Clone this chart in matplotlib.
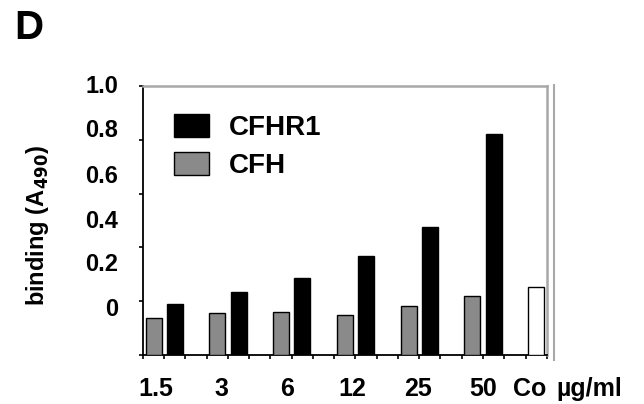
import matplotlib
matplotlib.use('agg')
import matplotlib.pyplot as plt
from matplotlib.lines import Line2D

# values (axis runs 0..1.0 between the tick marks)
concentrations = ['1.5', '3', '6', '12', '25', '50']
cfhr1_binding = [0.19, 0.234, 0.287, 0.368, 0.477, 0.82]
cfh_binding = [0.139, 0.155, 0.16, 0.15, 0.183, 0.22]
control_label = 'Co'
control_binding = 0.253
ytick_labels = ['1.0', '0.8', '0.6', '0.4', '0.2', '0']
# where the printed y labels sit (axes fraction) - they do not line up with ticks
ytick_label_pos = [1.0, 0.834, 0.665, 0.496, 0.338, 0.170]

BOLD = ['Liberation Sans', 'DejaVu Sans']
GRAY = '#8a8a8a'
FRAME = '#a8a8a8'

fig = plt.figure(figsize=(6.44, 4.04), dpi=100)
ax = fig.add_axes([0.222, 0.121, 0.627, 0.666])

# each concentration uses 3 slots: CFH, CFHR1, gap; control takes the last slot
gray_x = [3 * i for i in range(len(concentrations))]
black_x = [3 * i + 1 for i in range(len(concentrations))]
co_x = 3 * len(concentrations)
w = 0.75

ax.bar(gray_x, cfh_binding, width=w, color=GRAY, edgecolor='black', linewidth=1.0, label='CFH', zorder=3)
ax.bar(black_x, cfhr1_binding, width=w, color='black', edgecolor='black', linewidth=1.0, label='CFHR1', zorder=3)
ax.bar([co_x], [control_binding], width=w, color='white', edgecolor='black', linewidth=1.0, zorder=3)

ax.set_xlim(-0.5, co_x + 0.5)
ax.set_ylim(0, 1.0)

ax.spines['left'].set_color('black')
ax.spines['bottom'].set_color('black')
ax.spines['left'].set_linewidth(1.3)
ax.spines['bottom'].set_linewidth(1.3)
ax.spines['top'].set_color(FRAME)
ax.spines['right'].set_color(FRAME)
ax.spines['top'].set_linewidth(1.8)
ax.spines['right'].set_linewidth(1.8)

ax.set_yticks([0, 0.2, 0.4, 0.6, 0.8, 1.0])
ax.set_yticklabels([])
ax.set_xticks([x - 0.5 for x in range(co_x + 2)])
ax.set_xticklabels([])
ax.tick_params(axis='both', direction='out', length=3, width=1.2, color='black')

# y labels placed where the original has them
for lab, pos in zip(ytick_labels, ytick_label_pos):
    ax.text(-0.062, pos, lab, transform=ax.transAxes, ha='right', va='center',
            fontsize=17, fontweight='bold', family=BOLD)

# x labels
xt = ax.get_xaxis_transform()
for i, lab in enumerate(concentrations):
    ax.text(gray_x[i] + 0.1 + 0.08 * i, -0.125, lab, transform=xt, ha='center', va='center',
            fontsize=18, fontweight='bold', family=BOLD)
ax.text(co_x - 0.3, -0.125, control_label, transform=xt, ha='center', va='center',
        fontsize=18, fontweight='bold', family=BOLD)
fig.text(0.864, 0.037, '\u00b5g/ml', ha='left', va='center',
         fontsize=18, fontweight='bold', family=BOLD)

fig.text(0.058, 0.443, 'binding (A$_{\\mathbf{490}}$)', rotation=90, ha='center', va='center',
         fontsize=17, fontweight='bold', family=BOLD)

fig.text(0.022, 0.93, 'D', ha='left', va='center', fontsize=29, fontweight='bold', family=BOLD)

# extra vertical rule at right of the plot box
fig.add_artist(Line2D([554 / 644, 554 / 644], [(404 - 360) / 404, (404 - 85) / 404],
                      color=FRAME, linewidth=1.5))

# legend drawn like the original (boxes + labels)
handles, labels = ax.get_legend_handles_labels()
leg = ax.legend(handles[::-1], labels[::-1], loc='upper left', bbox_to_anchor=(0.015, 0.99),
                frameon=False, handlelength=1.26, handleheight=0.9, handletextpad=0.72,
                labelspacing=0.4, prop={'family': BOLD, 'weight': 'bold', 'size': 20})

fig.savefig('out.png', dpi=100)
